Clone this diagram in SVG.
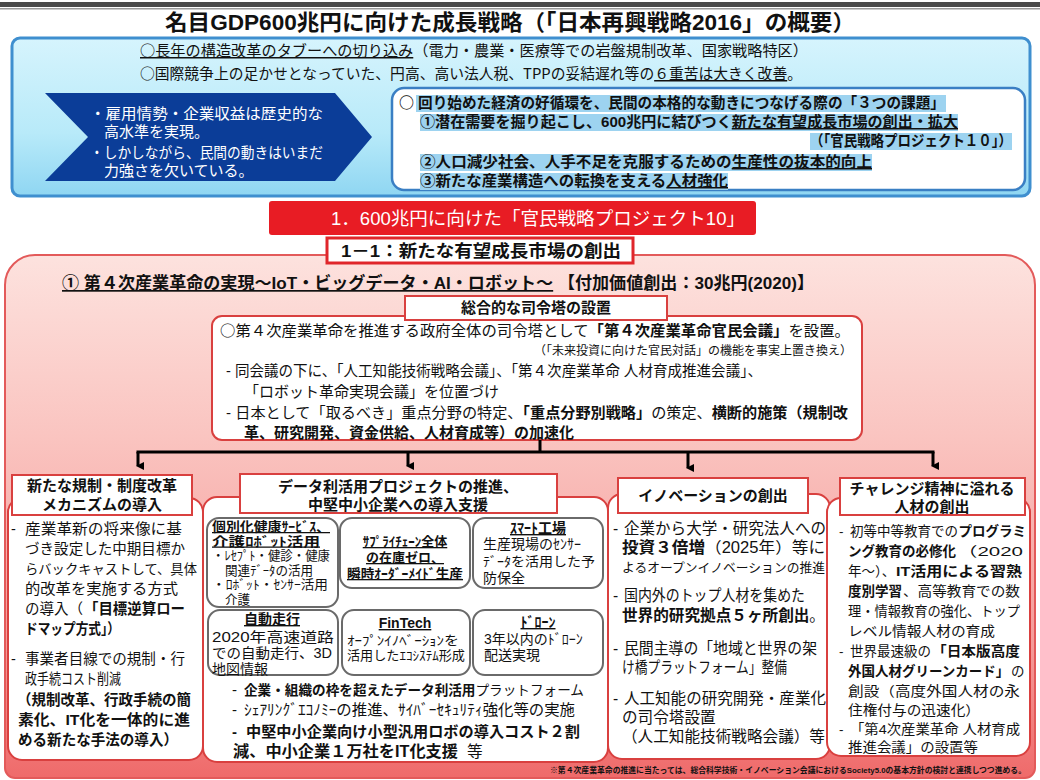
<svg xmlns="http://www.w3.org/2000/svg" width="1040" height="780" viewBox="0 0 1040 780">
<defs>
<linearGradient id="blueGrad" x1="0" y1="0" x2="0" y2="1">
<stop offset="0" stop-color="#d6f4fd"/><stop offset="0.6" stop-color="#b8eaf9"/><stop offset="1" stop-color="#8fd6f2"/>
</linearGradient>
<linearGradient id="pinkGrad" x1="0" y1="0" x2="0" y2="1">
<stop offset="0" stop-color="#fde2de"/><stop offset="0.35" stop-color="#fac4c0"/><stop offset="0.75" stop-color="#f59a98"/><stop offset="1" stop-color="#ef6a6a"/>
</linearGradient>
<marker id="arr" markerWidth="8" markerHeight="8" refX="4" refY="6" orient="auto-start-reverse" markerUnits="userSpaceOnUse" viewBox="0 0 8 8">
<path d="M0,0 L8,0 L4,8 Z" fill="#000"/>
</marker>
<style>
text{font-family:"Liberation Sans","Noto Sans CJK JP",sans-serif;fill:#111;}
.cjk{font-family:"Noto Sans CJK JP",sans-serif;}
.b{font-weight:700;}
.u{text-decoration:underline;}
.w{fill:#fff;}
.hd{font-size:15px;font-weight:700;text-anchor:middle;}
.c1{font-size:14.5px;}
.c3{font-size:15.6px;}
.c4{font-size:13.5px;}
.body15{font-size:15px;}
.box{fill:#fff;stroke:#d9403f;stroke-width:2;}
.inner{fill:#fff;stroke:#6a6a6a;stroke-width:2;}
.hl{fill:#9dd3f0;}
.conn{stroke:#000;stroke-width:3;fill:none;}
.s13{font-size:13px;}
.s128{font-size:12.6px;}
.s14{font-size:14px;}
.mid{text-anchor:middle;}
</style>
</defs>

<!-- top bar -->
<rect x="0" y="2" width="1040" height="5" fill="#4a4a4a"/>
<rect x="0" y="8" width="1040" height="1.5" fill="#9a9a9a"/>

<g id="title">
<text x="510" y="30" class="b mid" font-size="22" textLength="690" lengthAdjust="spacingAndGlyphs">名目GDP600兆円に向けた成長戦略（「日本再興戦略2016」の概要）</text>
</g>

<g id="blue-panel">
<rect x="12" y="38" width="1018" height="158" rx="8" fill="url(#blueGrad)" stroke="#3f8fcf" stroke-width="3"/>
<text x="140" y="56" class="body15 cjk" textLength="668" lengthAdjust="spacingAndGlyphs"><tspan class="u">○長年の構造改革のタブーへの切り込み</tspan>（電力・農業・医療等での岩盤規制改革、国家戦略特区）</text>
<text x="140" y="79" class="body15 cjk" textLength="662" lengthAdjust="spacingAndGlyphs">○国際競争上の足かせとなっていた、円高、高い法人税、TPPの妥結遅れ等の<tspan class="u">６重苦は大きく改善</tspan>。</text>
</g>

<g id="chevron">
<polygon points="45,93 335,93 372,137 335,181 45,181 88,137" fill="#0b3d98"/>
<text x="90" y="119" class="body15 w" textLength="233" lengthAdjust="spacingAndGlyphs">・雇用情勢・企業収益は歴史的な</text>
<text x="104" y="137" class="body15 w">高水準を実現。</text>
<text x="90" y="158" class="body15 w" textLength="233" lengthAdjust="spacingAndGlyphs">・しかしながら、民間の動きはいまだ</text>
<text x="104" y="176" class="body15 w">力強さを欠いている。</text>
</g>

<g id="three-issues">
<rect x="392" y="88" width="633" height="102" rx="12" fill="#fff" stroke="#3a7fc4" stroke-width="2.5"/>
<rect x="416" y="95" width="530" height="17" class="hl"/>
<rect x="420" y="114" width="538" height="17" class="hl"/>
<rect x="810" y="133" width="202" height="17" class="hl"/>
<rect x="420" y="154" width="452" height="17" class="hl"/>
<rect x="420" y="173" width="308" height="17" class="hl"/>
<text x="399" y="108" class="body15 b cjk">○</text>
<text x="418" y="108" class="body15 b" textLength="527" lengthAdjust="spacingAndGlyphs">回り始めた経済の好循環を、民間の本格的な動きにつなげる際の「３つの課題」</text>
<text x="420" y="127" class="body15 b" textLength="538" lengthAdjust="spacingAndGlyphs">①潜在需要を掘り起こし、600兆円に結びつく<tspan class="u">新たな有望成長市場の創出・拡大</tspan></text>
<text x="810" y="146" class="body15 b" textLength="202" lengthAdjust="spacingAndGlyphs">（「官民戦略プロジェクト１０」）</text>
<text x="420" y="167" class="body15 b" textLength="452" lengthAdjust="spacingAndGlyphs">②人口減少社会、人手不足を克服するための<tspan class="u">生産性の抜本的向上</tspan></text>
<text x="420" y="186" class="body15 b" textLength="308" lengthAdjust="spacingAndGlyphs">③新たな産業構造への転換を支える<tspan class="u">人材強化</tspan></text>
</g>

<g id="pink-area">
<path d="M5,285 A30,30 0 0 1 35,255 H1005 A30,30 0 0 1 1035,285 V768 A10,10 0 0 1 1025,778 H15 A10,10 0 0 1 5,768 Z" fill="url(#pinkGrad)" stroke="#e35a5a" stroke-width="2"/>
<text x="62" y="289" class="b" font-size="17" textLength="752" lengthAdjust="spacingAndGlyphs"><tspan class="u">① 第４次産業革命の実現～IoT・ビッグデータ・AI・ロボット～</tspan> 【付加価値創出：30兆円(2020)】</text>
</g>

<g id="banner">
<rect x="269" y="201" width="487" height="34" rx="3" fill="#e81c24"/>
<text x="331" y="225" class="w" font-size="18" textLength="414" lengthAdjust="spacingAndGlyphs">1．600兆円に向けた「官民戦略プロジェクト10」</text>
</g>

<g id="sub-banner">
<rect x="327" y="238" width="306" height="25" fill="#fff" stroke="#e0262b" stroke-width="3"/>
<text x="341" y="257" class="b" font-size="17" textLength="280" lengthAdjust="spacingAndGlyphs">1－1：新たな有望成長市場の創出</text>
</g>

<g id="command">
<rect x="212" y="316" width="650" height="124" rx="10" class="box"/>
<rect x="405" y="296" width="262" height="24" class="box"/>
<text x="536" y="313" class="hd">総合的な司令塔の設置</text>
<text x="220" y="336" class="body15 cjk" textLength="630" lengthAdjust="spacingAndGlyphs">○第４次産業革命を推進する政府全体の司令塔として<tspan class="b">「第４次産業革命官民会議」</tspan>を設置。</text>
<text x="852" y="355" font-size="12" text-anchor="end">（「未来投資に向けた官民対話」の機能を事実上置き換え）</text>
<text x="226" y="376" class="body15" textLength="536" lengthAdjust="spacingAndGlyphs">- 同会議の下に、「人工知能技術戦略会議」、「第４次産業革命 人材育成推進会議」、</text>
<text x="244" y="397" class="body15">「ロボット革命実現会議」を位置づけ</text>
<text x="226" y="418" class="body15" textLength="622" lengthAdjust="spacingAndGlyphs">- 日本として「取るべき」重点分野の特定、<tspan class="b">「重点分野別戦略」</tspan>の策定、<tspan class="b">横断的施策（規制改</tspan></text>
<text x="244" y="438" class="body15 b">革、研究開発、資金供給、人材育成等）の加速化</text>
</g>

<g id="connectors">
<line x1="540" y1="440" x2="540" y2="452" class="conn"/>
<line x1="136.5" y1="452" x2="934.5" y2="452" class="conn"/>
<line x1="138" y1="452" x2="138" y2="466" class="conn" marker-end="url(#arr)"/>
<line x1="408" y1="452" x2="408" y2="466" class="conn" marker-end="url(#arr)"/>
<line x1="688" y1="452" x2="688" y2="468" class="conn" marker-end="url(#arr)"/>
<line x1="933" y1="452" x2="933" y2="466" class="conn" marker-end="url(#arr)"/>
</g>

<g id="col-regulation">
<rect x="8" y="498" width="195" height="262" rx="14" class="box"/>
<rect x="12" y="475" width="180" height="40" class="box"/>
<text x="102" y="491" class="hd">新たな規制・制度改革</text>
<text x="102" y="510" class="hd">メカニズムの導入</text>
<text x="11" y="534" class="c1">-</text>
<text x="25" y="534" class="c1" textLength="157" lengthAdjust="spacingAndGlyphs">産業革新の将来像に基</text>
<text x="25" y="554" class="c1" textLength="160" lengthAdjust="spacingAndGlyphs">づき設定した中期目標か</text>
<text x="25" y="574" font-size="13.2" textLength="172" lengthAdjust="spacingAndGlyphs">らバックキャストして、具体</text>
<text x="25" y="594" class="c1" textLength="153" lengthAdjust="spacingAndGlyphs">的改革を実施する方式</text>
<text x="25" y="614" class="c1" textLength="58" lengthAdjust="spacingAndGlyphs">の導入（</text>
<text x="84" y="614" class="c1 b" textLength="101" lengthAdjust="spacingAndGlyphs">「目標逆算ロー</text>
<text x="25" y="634" class="c1 b" textLength="95" lengthAdjust="spacingAndGlyphs">ドマップ方式」）</text>
<text x="11" y="664" class="c1">-</text>
<text x="25" y="664" class="c1" textLength="160" lengthAdjust="spacingAndGlyphs">事業者目線での規制・行</text>
<text x="25" y="684" class="c1" textLength="96" lengthAdjust="spacingAndGlyphs">政手続コスト削減</text>
<text x="17" y="705" class="c1 b" textLength="174" lengthAdjust="spacingAndGlyphs">（規制改革、行政手続の簡</text>
<text x="18" y="725" class="c1 b" textLength="172" lengthAdjust="spacingAndGlyphs">素化、IT化を一体的に進</text>
<text x="18" y="745" class="c1 b" textLength="160" lengthAdjust="spacingAndGlyphs">める新たな手法の導入）</text>
</g>

<g id="col-data">
<rect x="203" y="497" width="405" height="265" rx="14" class="box"/>
<rect x="240" y="474" width="317" height="39" class="box"/>
<text x="398" y="492" class="hd">データ利活用プロジェクトの推進、</text>
<text x="398" y="510" class="hd">中堅中小企業への導入支援</text>

<rect x="207" y="518" width="131" height="89" rx="12" class="inner"/>
<text x="212" y="531" class="s128 b u" textLength="118" lengthAdjust="spacingAndGlyphs">個別化健康ｻｰﾋﾞｽ、</text>
<text x="212" y="545.5" class="s128 b u" textLength="108" lengthAdjust="spacingAndGlyphs">介護ﾛﾎﾞｯﾄ活用</text>
<text x="212" y="560" class="s128" textLength="118" lengthAdjust="spacingAndGlyphs">・ﾚｾﾌﾟﾄ・健診・健康</text>
<text x="225" y="574.5" class="s128">関連ﾃﾞｰﾀの活用</text>
<text x="212" y="589" class="s128" textLength="116" lengthAdjust="spacingAndGlyphs">・ﾛﾎﾞｯﾄ・ｾﾝｻｰ活用</text>
<text x="225" y="603.5" class="s128">介護</text>

<rect x="340" y="518" width="130" height="70" rx="12" class="inner"/>
<text x="405" y="546" class="s13 b u mid">ｻﾌﾟﾗｲﾁｪｰﾝ全体</text>
<text x="405" y="562" class="s13 b u mid">の在庫ゼロ、</text>
<text x="405" y="578" class="s13 b u mid" textLength="116" lengthAdjust="spacingAndGlyphs">瞬時ｵｰﾀﾞｰﾒｲﾄﾞ生産</text>

<rect x="473" y="518" width="130" height="70" rx="12" class="inner"/>
<text x="538" y="533" class="s14 b u mid">ｽﾏｰﾄ工場</text>
<text x="483" y="549" class="s14">生産現場のｾﾝｻｰ</text>
<text x="483" y="566" class="s13" textLength="112" lengthAdjust="spacingAndGlyphs">ﾃﾞｰﾀを活用した予</text>
<text x="483" y="583" class="s14">防保全</text>

<rect x="208" y="610" width="130" height="65" rx="12" class="inner"/>
<text x="272" y="624" class="s14 b u mid">自動走行</text>
<text x="212" y="642" class="s14" textLength="122" lengthAdjust="spacingAndGlyphs">2020年高速道路</text>
<text x="212" y="658" class="s14" textLength="120" lengthAdjust="spacingAndGlyphs">での自動走行、3D</text>
<text x="212" y="674" class="s14">地図情報</text>

<rect x="342" y="610" width="128" height="65" rx="12" class="inner"/>
<text x="405" y="628" class="s14 b u mid">FinTech</text>
<text x="347" y="645" class="s13" textLength="112" lengthAdjust="spacingAndGlyphs">ｵｰﾌﾟﾝｲﾉﾍﾞｰｼｮﾝを</text>
<text x="347" y="660" class="s13" textLength="118" lengthAdjust="spacingAndGlyphs">活用したｴｺｼｽﾃﾑ形成</text>

<rect x="473" y="610" width="130" height="65" rx="12" class="inner"/>
<text x="538" y="627" class="s14 b u mid">ﾄﾞﾛｰﾝ</text>
<text x="484" y="644" class="s14">3年以内のﾄﾞﾛｰﾝ</text>
<text x="484" y="660" class="s14">配送実現</text>

<text x="232" y="695" font-size="15">-</text>
<text x="244" y="695" font-size="13.6" textLength="340" lengthAdjust="spacingAndGlyphs"><tspan class="b">企業・組織の枠を超えたデータ利活用</tspan>プラットフォーム</text>
<text x="232" y="715" font-size="15">-</text>
<text x="244" y="715" font-size="15.2" textLength="331" lengthAdjust="spacingAndGlyphs">ｼｪｱﾘﾝｸﾞｴｺﾉﾐｰの推進、ｻｲﾊﾞｰｾｷｭﾘﾃｨ強化等の実施</text>
<text x="232" y="737" font-size="15" class="b">-</text>
<text x="246" y="737" font-size="15" class="b" textLength="334" lengthAdjust="spacingAndGlyphs">中堅中小企業向け小型汎用ロボの導入コスト２割</text>
<text x="233" y="757" font-size="15.6" class="b" textLength="225" lengthAdjust="spacingAndGlyphs">減、中小企業１万社をIT化支援</text>
<text x="467" y="757" font-size="15.6">等</text>
</g>

<g id="col-innovation">
<rect x="608" y="494" width="222" height="265" rx="14" class="box"/>
<rect x="618" y="478" width="190" height="35" class="box"/>
<text x="713" y="501" class="hd">イノベーションの創出</text>
<text x="613" y="534" class="c3">-</text>
<text x="624" y="534" class="c3" textLength="202" lengthAdjust="spacingAndGlyphs">企業から大学・研究法人への</text>
<text x="622" y="553" class="c3" textLength="203" lengthAdjust="spacingAndGlyphs"><tspan class="b">投資３倍増</tspan>（2025年）等に</text>
<text x="622" y="572" font-size="12.7" textLength="203" lengthAdjust="spacingAndGlyphs">よるオープンイノベーションの推進</text>
<text x="613" y="601" class="c3">-</text>
<text x="624" y="601" class="c3" textLength="181" lengthAdjust="spacingAndGlyphs">国内外のトップ人材を集めた</text>
<text x="622" y="621" class="c3" textLength="203" lengthAdjust="spacingAndGlyphs"><tspan class="b">世界的研究拠点５ヶ所創出</tspan>。</text>
<text x="613" y="654" class="c3">-</text>
<text x="624" y="654" class="c3" textLength="193" lengthAdjust="spacingAndGlyphs">民間主導の「地域と世界の架</text>
<text x="622" y="673" class="c3" textLength="165" lengthAdjust="spacingAndGlyphs">け橋プラットフォーム」整備</text>
<text x="613" y="704" class="c3">-</text>
<text x="624" y="704" class="c3" textLength="202" lengthAdjust="spacingAndGlyphs">人工知能の研究開発・産業化</text>
<text x="622" y="723" class="c3">の司令塔設置</text>
<text x="622" y="742" class="c3" textLength="203" lengthAdjust="spacingAndGlyphs">（人工知能技術戦略会議）等</text>
</g>

<g id="col-talent">
<rect x="827" y="498" width="203" height="258" rx="14" class="box"/>
<rect x="840" y="478" width="185" height="37" class="box"/>
<text x="932" y="494" class="hd">チャレンジ精神に溢れる</text>
<text x="932" y="512" class="hd">人材の創出</text>
<text x="839" y="536" class="c4">-</text>
<text x="850" y="536" class="c4">初等中等教育での</text>
<text x="958.5" y="536" class="c4 b">プログラミ</text>
<text x="848" y="556" class="c4 b">ング教育の必修化</text>
<text x="957" y="556" class="c4" textLength="66" lengthAdjust="spacingAndGlyphs">（2020</text>
<text x="848" y="576" class="c4">年～）、</text>
<text x="896" y="576" class="c4 b" textLength="126" lengthAdjust="spacingAndGlyphs">IT活用による習熟</text>
<text x="848" y="596" class="c4 b">度別学習</text>
<text x="903" y="596" class="c4" textLength="117" lengthAdjust="spacingAndGlyphs">、高等教育での数</text>
<text x="848" y="616" class="c4" textLength="172" lengthAdjust="spacingAndGlyphs">理・情報教育の強化、トップ</text>
<text x="848" y="636" class="c4" textLength="147" lengthAdjust="spacingAndGlyphs">レベル情報人材の育成</text>
<text x="839" y="656" class="c4">-</text>
<text x="850" y="656" class="c4">世界最速級の</text>
<text x="932" y="656" class="c4 b" textLength="88" lengthAdjust="spacingAndGlyphs">「日本版高度</text>
<text x="848" y="676" class="c4 b">外国人材グリーンカード」</text>
<text x="1011" y="676" class="c4">の</text>
<text x="848" y="696" class="c4" textLength="172" lengthAdjust="spacingAndGlyphs">創設（高度外国人材の永</text>
<text x="848" y="715" class="c4" textLength="132" lengthAdjust="spacingAndGlyphs">住権付与の迅速化）</text>
<text x="839" y="734" class="c4">-</text>
<text x="850" y="734" class="c4" textLength="170" lengthAdjust="spacingAndGlyphs">「第4次産業革命 人材育成</text>
<text x="848" y="752" class="c4" textLength="130" lengthAdjust="spacingAndGlyphs">推進会議」の設置等</text>
</g>

<g id="footnote">
<text x="550" y="773" font-size="8" class="b" fill="#3a0808" textLength="476" lengthAdjust="spacingAndGlyphs">※第４次産業革命の推進に当たっては、総合科学技術・イノベーション会議におけるSociety5.0の基本方針の検討と連携しつつ進める。</text>
</g>
</svg>
